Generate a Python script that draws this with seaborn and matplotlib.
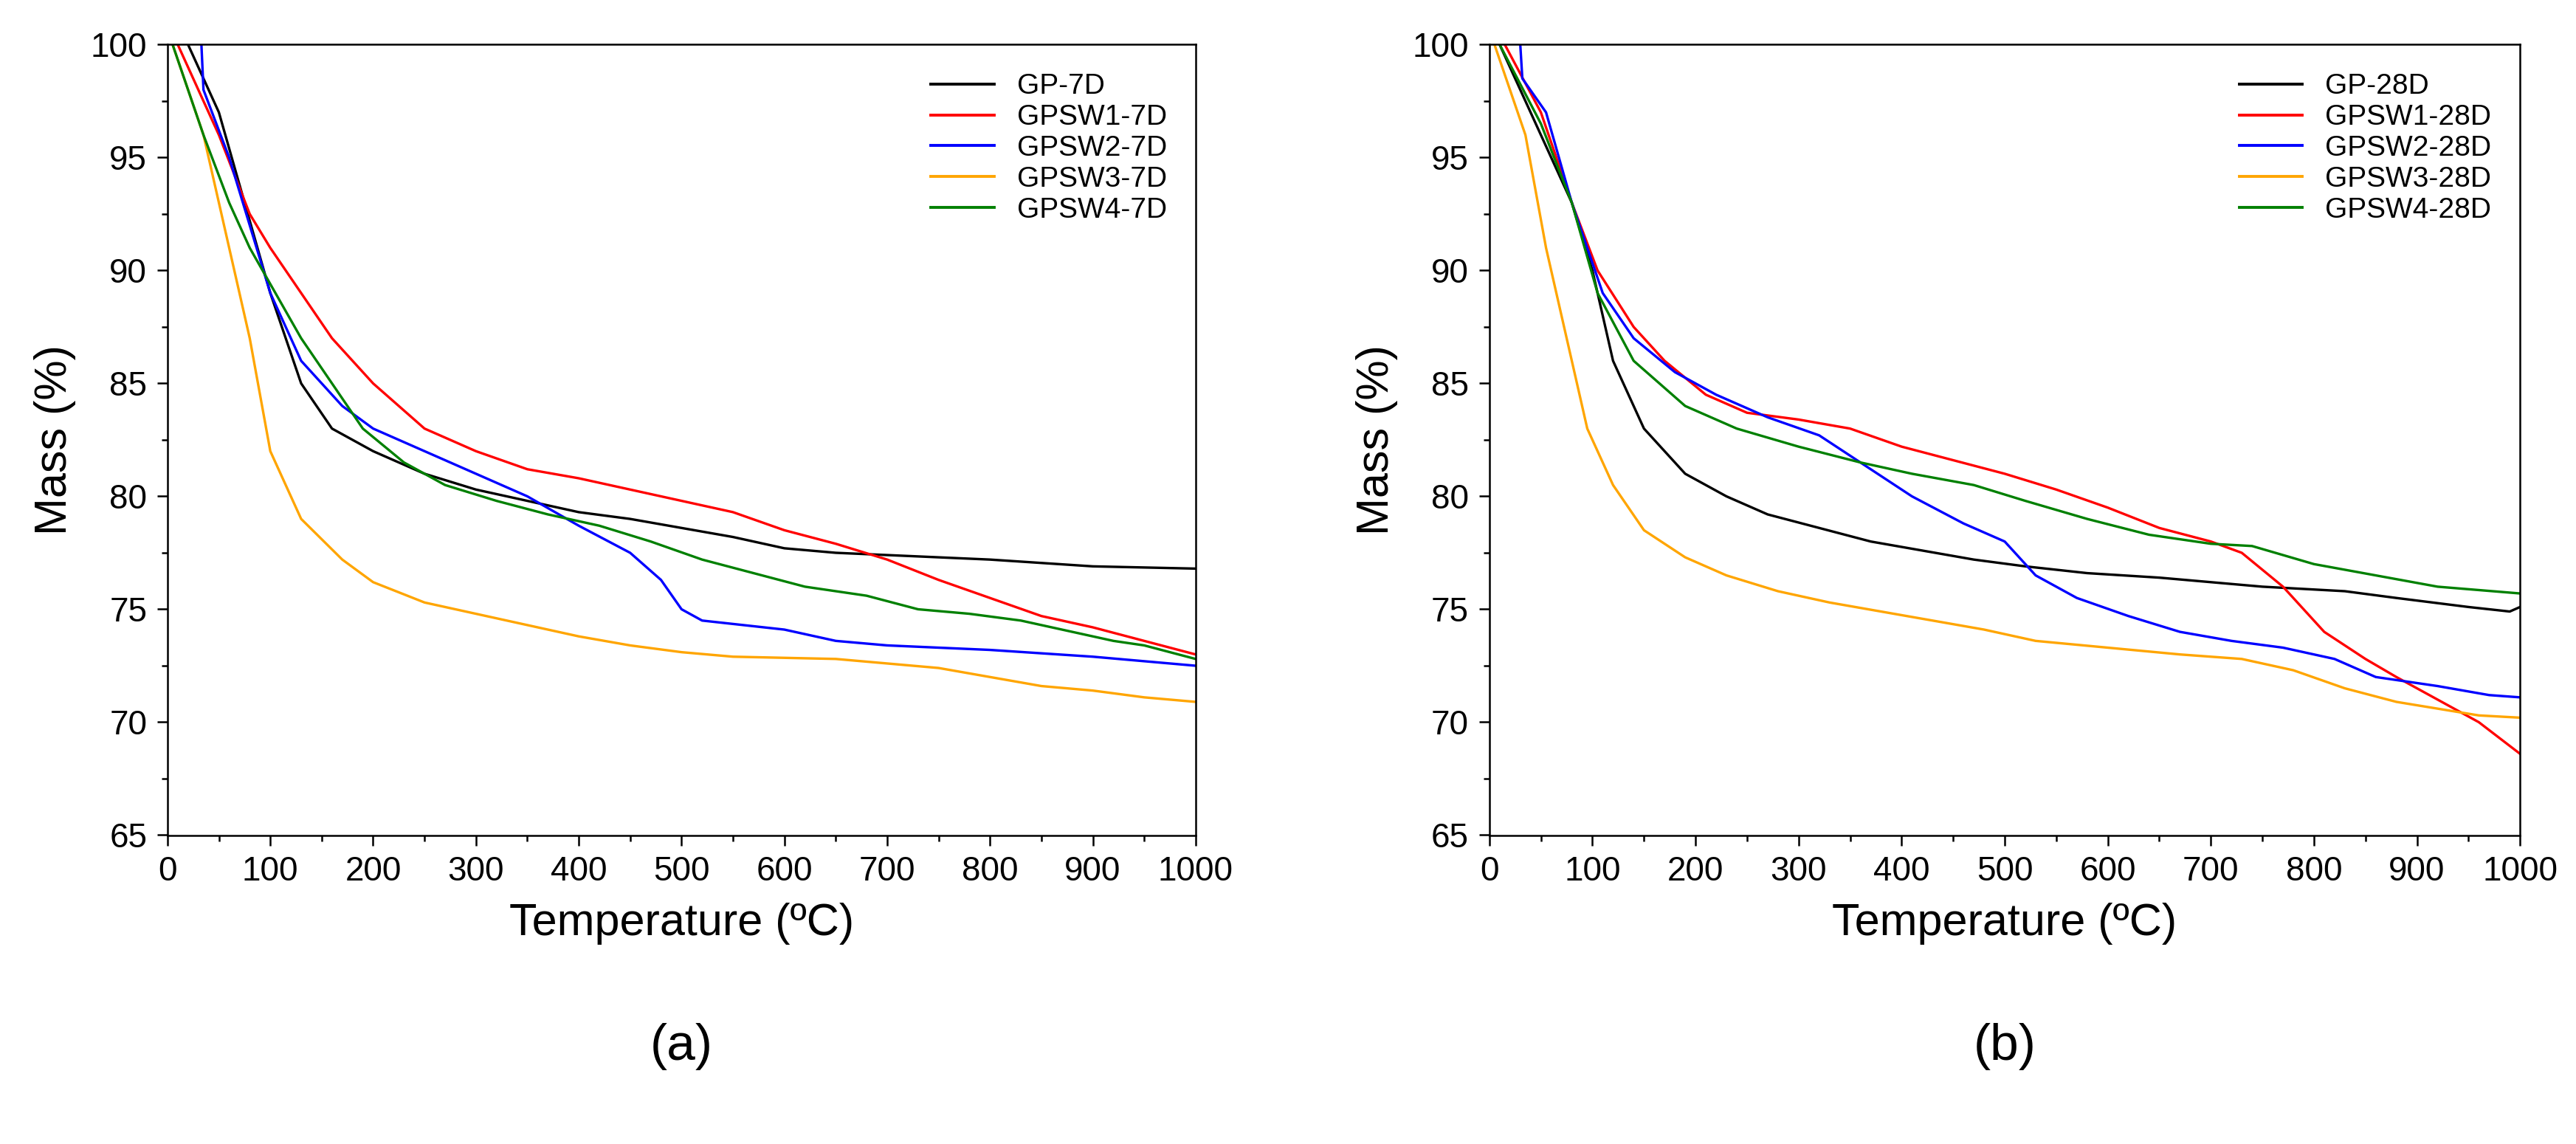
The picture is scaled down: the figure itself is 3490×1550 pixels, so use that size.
import numpy as np
import pandas as pd
import seaborn as sns
import matplotlib.pyplot as plt
from matplotlib.ticker import MultipleLocator

# ---- data (7 days) ----
gp7_t = [20, 35, 50, 75, 100, 130, 160, 200, 250, 300, 350, 400, 450, 500, 550, 600, 650, 700, 800, 900, 1000]
gp7_m = [100, 98.5, 97, 93, 89, 85, 83, 82, 81, 80.3, 79.8, 79.3, 79, 78.6, 78.2, 77.7, 77.5, 77.4, 77.2, 76.9, 76.8]
sw1_7_t = [10, 50, 80, 100, 130, 160, 200, 250, 300, 350, 400, 450, 500, 550, 600, 650, 700, 750, 800, 850, 900, 950, 1000]
sw1_7_m = [100, 96, 92.5, 91, 89, 87, 85, 83, 82, 81.2, 80.8, 80.3, 79.8, 79.3, 78.5, 77.9, 77.2, 76.3, 75.5, 74.7, 74.2, 73.6, 73]
sw2_7_t = [33, 35, 60, 80, 100, 130, 170, 200, 250, 300, 350, 400, 450, 480, 500, 520, 600, 650, 700, 800, 900, 1000]
sw2_7_m = [100, 98, 95, 92, 89, 86, 84, 83, 82, 81, 80, 78.7, 77.5, 76.3, 75, 74.5, 74.1, 73.6, 73.4, 73.2, 72.9, 72.5]
sw3_7_t = [5, 35, 60, 80, 100, 130, 170, 200, 250, 300, 350, 400, 450, 500, 550, 650, 700, 750, 800, 850, 900, 950, 1000]
sw3_7_m = [100, 96, 91, 87, 82, 79, 77.2, 76.2, 75.3, 74.8, 74.3, 73.8, 73.4, 73.1, 72.9, 72.8, 72.6, 72.4, 72, 71.6, 71.4, 71.1, 70.9]
sw4_7_t = [5, 35, 60, 80, 105, 130, 160, 190, 230, 270, 320, 370, 420, 470, 520, 570, 620, 680, 730, 780, 830, 880, 920, 950, 1000]
sw4_7_m = [100, 96, 93, 91, 89, 87, 85, 83, 81.5, 80.5, 79.8, 79.2, 78.7, 78, 77.2, 76.6, 76, 75.6, 75, 74.8, 74.5, 74, 73.6, 73.4, 72.8]

# ---- data (28 days) ----
gp28_t = [10, 50, 80, 100, 120, 150, 190, 230, 270, 320, 370, 420, 470, 520, 580, 650, 700, 750, 830, 880, 950, 990, 1000]
gp28_m = [100, 96, 93, 90, 86, 83, 81, 80, 79.2, 78.6, 78, 77.6, 77.2, 76.9, 76.6, 76.4, 76.2, 76, 75.8, 75.5, 75.1, 74.9, 75.1]
sw1_28_t = [15, 50, 80, 105, 140, 170, 210, 250, 300, 350, 400, 450, 500, 550, 600, 650, 700, 730, 770, 810, 850, 880, 920, 960, 1000]
sw1_28_m = [100, 97, 93, 90, 87.5, 86, 84.5, 83.7, 83.4, 83, 82.2, 81.6, 81, 80.3, 79.5, 78.6, 78, 77.5, 76, 74, 72.8, 72, 71, 70, 68.6]
sw2_28_t = [30, 32, 55, 80, 110, 140, 180, 220, 270, 320, 360, 410, 460, 500, 530, 570, 620, 670, 720, 770, 820, 860, 920, 970, 1000]
sw2_28_m = [100, 98.5, 97, 93, 89, 87, 85.5, 84.5, 83.5, 82.7, 81.5, 80, 78.8, 78, 76.5, 75.5, 74.7, 74, 73.6, 73.3, 72.8, 72, 71.6, 71.2, 71.1]
sw3_28_t = [5, 35, 55, 75, 95, 120, 150, 190, 230, 280, 330, 380, 430, 480, 530, 600, 670, 730, 780, 830, 880, 920, 960, 1000]
sw3_28_m = [100, 96, 91, 87, 83, 80.5, 78.5, 77.3, 76.5, 75.8, 75.3, 74.9, 74.5, 74.1, 73.6, 73.3, 73, 72.8, 72.3, 71.5, 70.9, 70.6, 70.3, 70.2]
sw4_28_t = [10, 50, 80, 105, 140, 190, 240, 300, 360, 410, 470, 520, 580, 640, 700, 740, 800, 860, 920, 1000]
sw4_28_m = [100, 96.5, 93, 89, 86, 84, 83, 82.2, 81.5, 81, 80.5, 79.8, 79, 78.3, 77.9, 77.8, 77, 76.5, 76, 75.7]

colors = ["#000000", "#FF0000", "#0000FF", "#FFA500", "#008000"]
panel_a = [("GP-7D", gp7_t, gp7_m), ("GPSW1-7D", sw1_7_t, sw1_7_m), ("GPSW2-7D", sw2_7_t, sw2_7_m),
           ("GPSW3-7D", sw3_7_t, sw3_7_m), ("GPSW4-7D", sw4_7_t, sw4_7_m)]
panel_b = [("GP-28D", gp28_t, gp28_m), ("GPSW1-28D", sw1_28_t, sw1_28_m), ("GPSW2-28D", sw2_28_t, sw2_28_m),
           ("GPSW3-28D", sw3_28_t, sw3_28_m), ("GPSW4-28D", sw4_28_t, sw4_28_m)]

plt.rcParams["font.family"] = "Liberation Sans"
fig = plt.figure(figsize=(34.91, 15.5), dpi=100)
axes = [fig.add_axes([0.065, 0.270, 0.399, 0.691]), fig.add_axes([0.578, 0.270, 0.400, 0.691])]

for ax, panel, lab in zip(axes, [panel_a, panel_b], ["(a)", "(b)"]):
    frames = [pd.DataFrame({"T": t, "M": m, "s": name}) for name, t, m in panel]
    df = pd.concat(frames, ignore_index=True)
    sns.lineplot(data=df, x="T", y="M", hue="s", palette=colors, ax=ax, lw=2.4,
                 estimator=None, sort=False)
    ax.set_xlim(0, 1000)
    ax.set_ylim(65, 100)
    ax.xaxis.set_major_locator(MultipleLocator(100))
    ax.xaxis.set_minor_locator(MultipleLocator(50))
    ax.yaxis.set_major_locator(MultipleLocator(5))
    ax.yaxis.set_minor_locator(MultipleLocator(2.5))
    ax.tick_params(which="both", direction="out", labelsize=33, width=1.8, pad=10)
    ax.tick_params(which="major", length=10)
    ax.tick_params(which="minor", length=6)
    for s in ax.spines.values():
        s.set_linewidth(1.8)
    ax.set_xlabel("Temperature (ºC)", fontsize=44, labelpad=14)
    ax.set_ylabel("Mass (%)", fontsize=44, labelpad=14)
    ax.legend(title=None, frameon=False, fontsize=28, loc="upper right", handlelength=2.2,
              labelspacing=0.15, borderaxespad=0.6)
    for line in ax.get_legend().get_lines():
        line.set_linewidth(2.8)
    pos = ax.get_position()
    fig.text((pos.x0 + pos.x1) / 2, 0.085, lab, fontsize=50, ha="center", va="center")

fig.savefig("out.png", dpi=100)
